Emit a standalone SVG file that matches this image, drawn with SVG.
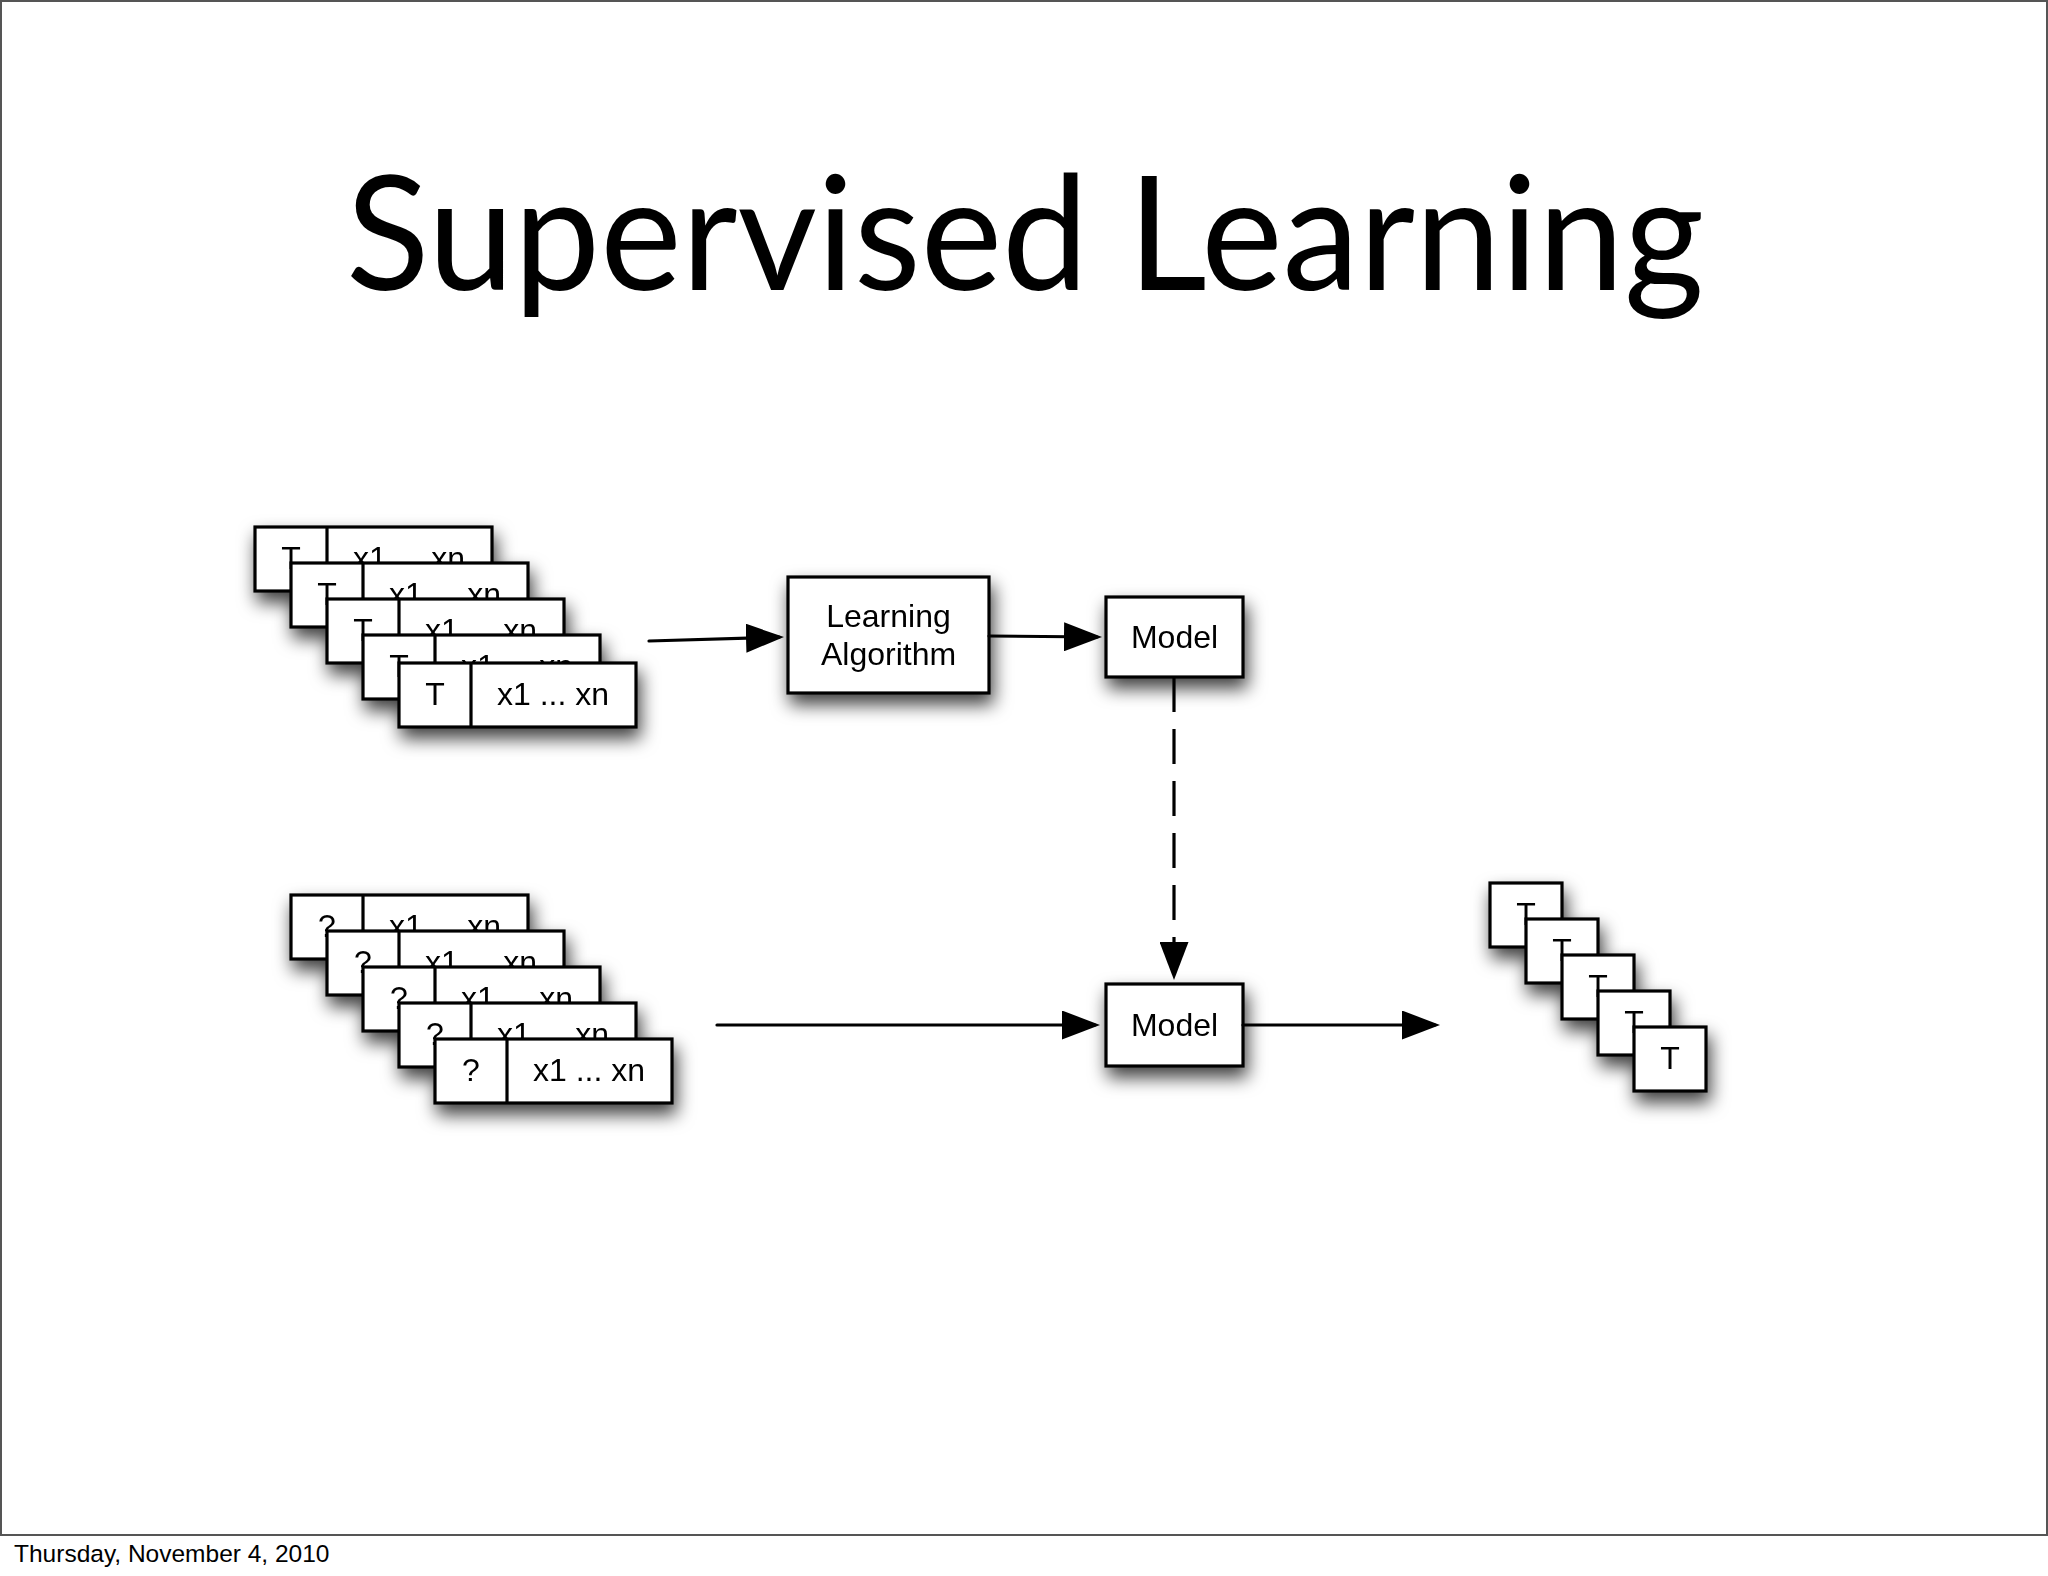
<svg xmlns="http://www.w3.org/2000/svg" width="2048" height="1576" viewBox="0 0 2048 1576">
  <style>
    .box { fill: #ffffff; stroke: #000000; stroke-width: 3.2; }
    .div { stroke: #000000; stroke-width: 3.2; }
    .lbl { font-family: "Liberation Sans", Arial, Helvetica, sans-serif; font-size: 32px; fill: #000000; text-anchor: middle; }
    .conn { fill: none; stroke: #000000; stroke-width: 3.2; stroke-linecap: round; }
    .dash { stroke-dasharray: 35 17; stroke-linecap: butt; }
  </style>
  <defs>
    <filter id="shadow" x="-25%" y="-25%" width="160%" height="170%">
      <feDropShadow dx="3" dy="10" stdDeviation="9" flood-color="#000000" flood-opacity="0.75"/>
    </filter>
    <marker id="arrow" markerUnits="userSpaceOnUse" viewBox="0 0 38 29" markerWidth="38" markerHeight="29" refX="33" refY="14.5" orient="auto">
      <path d="M0,0 L38,14.5 L0,29 Z" fill="#000000"/>
    </marker>
  </defs>

  <rect x="0" y="0" width="2048" height="1576" fill="#ffffff"/>
  <rect x="1" y="1" width="2046" height="1534" fill="none" stroke="#555555" stroke-width="2"/>

  <text x="1025" y="290" font-family="Lato, 'Open Sans', sans-serif" font-size="160" textLength="1358" lengthAdjust="spacingAndGlyphs" text-anchor="middle" fill="#000000">Supervised Learning</text>

  <text x="14" y="1562" font-family="'Liberation Sans', Arial, Helvetica, sans-serif" font-size="24.5" fill="#000000">Thursday, November 4, 2010</text>

  <!-- Training stack -->
  <g filter="url(#shadow)">
    <g id="train1"><rect class="box" x="255" y="527" width="237" height="64"/><line class="div" x1="327" y1="527" x2="327" y2="591"/><text class="lbl" x="291" y="569">T</text><text class="lbl" x="409" y="569">x1 ... xn</text></g>
    <g id="train2"><rect class="box" x="291" y="563" width="237" height="64"/><line class="div" x1="363" y1="563" x2="363" y2="627"/><text class="lbl" x="327" y="605">T</text><text class="lbl" x="445" y="605">x1 ... xn</text></g>
    <g id="train3"><rect class="box" x="327" y="599" width="237" height="64"/><line class="div" x1="399" y1="599" x2="399" y2="663"/><text class="lbl" x="363" y="641">T</text><text class="lbl" x="481" y="641">x1 ... xn</text></g>
    <g id="train4"><rect class="box" x="363" y="635" width="237" height="64"/><line class="div" x1="435" y1="635" x2="435" y2="699"/><text class="lbl" x="399" y="677">T</text><text class="lbl" x="517" y="677">x1 ... xn</text></g>
    <g id="train5"><rect class="box" x="399" y="663" width="237" height="64"/><line class="div" x1="471" y1="663" x2="471" y2="727"/><text class="lbl" x="435" y="705">T</text><text class="lbl" x="553" y="705">x1 ... xn</text></g>
  </g>

  <!-- Test stack -->
  <g filter="url(#shadow)">
    <g id="test1"><rect class="box" x="291" y="895" width="237" height="64"/><line class="div" x1="363" y1="895" x2="363" y2="959"/><text class="lbl" x="327" y="937">?</text><text class="lbl" x="445" y="937">x1 ... xn</text></g>
    <g id="test2"><rect class="box" x="327" y="931" width="237" height="64"/><line class="div" x1="399" y1="931" x2="399" y2="995"/><text class="lbl" x="363" y="973">?</text><text class="lbl" x="481" y="973">x1 ... xn</text></g>
    <g id="test3"><rect class="box" x="363" y="967" width="237" height="64"/><line class="div" x1="435" y1="967" x2="435" y2="1031"/><text class="lbl" x="399" y="1009">?</text><text class="lbl" x="517" y="1009">x1 ... xn</text></g>
    <g id="test4"><rect class="box" x="399" y="1003" width="237" height="64"/><line class="div" x1="471" y1="1003" x2="471" y2="1067"/><text class="lbl" x="435" y="1045">?</text><text class="lbl" x="553" y="1045">x1 ... xn</text></g>
    <g id="test5"><rect class="box" x="435" y="1039" width="237" height="64"/><line class="div" x1="507" y1="1039" x2="507" y2="1103"/><text class="lbl" x="471" y="1081">?</text><text class="lbl" x="589" y="1081">x1 ... xn</text></g>
  </g>

  <!-- Learning Algorithm -->
  <g id="learning-algorithm" filter="url(#shadow)">
    <rect class="box" x="788" y="577" width="201" height="116"/>
    <text class="lbl" x="888.5" y="627">Learning</text>
    <text class="lbl" x="888.5" y="665">Algorithm</text>
  </g>

  <!-- Model (top) -->
  <g id="model-train" filter="url(#shadow)">
    <rect class="box" x="1106" y="597" width="137" height="80"/>
    <text class="lbl" x="1174.5" y="648">Model</text>
  </g>

  <!-- Model (bottom) -->
  <g id="model-predict" filter="url(#shadow)">
    <rect class="box" x="1106" y="984" width="137" height="82"/>
    <text class="lbl" x="1174.5" y="1036">Model</text>
  </g>

  <!-- Output stack -->
  <g filter="url(#shadow)">
    <g id="out1"><rect class="box" x="1490" y="883" width="72" height="64"/><text class="lbl" x="1526" y="925">T</text></g>
    <g id="out2"><rect class="box" x="1526" y="919" width="72" height="64"/><text class="lbl" x="1562" y="961">T</text></g>
    <g id="out3"><rect class="box" x="1562" y="955" width="72" height="64"/><text class="lbl" x="1598" y="997">T</text></g>
    <g id="out4"><rect class="box" x="1598" y="991" width="72" height="64"/><text class="lbl" x="1634" y="1033">T</text></g>
    <g id="out5"><rect class="box" x="1634" y="1027" width="72" height="64"/><text class="lbl" x="1670" y="1069">T</text></g>
  </g>

  <!-- Connectors -->
  <g id="connectors">
    <path class="conn" d="M649,641 L779,637.2" marker-end="url(#arrow)"/>
    <path class="conn" d="M989,636 L1097,637" marker-end="url(#arrow)"/>
    <path class="conn dash" d="M1174,677 L1174,975" marker-end="url(#arrow)"/>
    <path class="conn" d="M717,1025 L1095,1025" marker-end="url(#arrow)"/>
    <path class="conn" d="M1243,1025 L1435,1025" marker-end="url(#arrow)"/>
  </g>
</svg>
